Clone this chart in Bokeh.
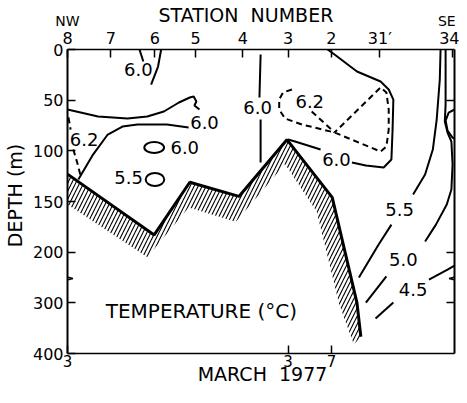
import numpy as np
from bokeh.plotting import figure
from bokeh.models import Range1d, LinearAxis, FixedTicker, Label
from bokeh.core.properties import value
from bokeh.embed import file_html
from bokeh.resources import INLINE

FONT = "DejaVu Sans"
NB = "\u00a0"

# ---- axes data ----
station_x = [0, 11.2, 22.6, 33.1, 45.3, 57.0, 68.2, 80.7, 99.5]
station_labels = ["8", "7", "6", "5", "4", "3", "2", "31\u2032", "34"]
side_x = [0, 98.0]
side_labels = ["NW", "SE"]
date_x = [0, 57.0, 68.2]
date_labels = ["3", "3", "7"]
month_x = [50.4]
month_labels = ["MARCH" + NB * 2 + "1977"]
depth_ticks_m = [0, 50, 100, 150, 200, 300, 400]
right_ticks_m = [50, 200, 300]

# ---- bottom topography (distance units, depth m) ----
bottom_x = [0, 22.4, 31.6, 44.3, 56.7, 68.4, 74.8, 75.8]
bottom_d = [123, 183, 131, 145, 89, 146, 300, 367]
hatch_lo_x = [74.0, 70.2, 64.4, 56.2, 43.5, 31.3, 20.6, 0]
hatch_lo_d = [382, 303, 160, 113, 170, 156, 210, 153]

# ---- contours (solid) ----
c60_v_right_x = [24.2, 23.4, 21.6]; c60_v_right_d = [0, 16.8, 34.6]
c60_v_left_x = [18.6, 19.6]; c60_v_left_d = [0, 11.8]
c60_up_x = [0, 7.9, 15.5, 20.6, 24.9, 28.8, 31.6, 32.6, 33.3, 32.8, 34.1]
c60_up_d = [59.2, 66.1, 68.1, 66.1, 61.2, 52.3, 47.4, 46.4, 51.3, 55.3, 59.2]
c60_lo_x = [31.3, 25.7, 18.1, 14.2, 10.4, 6.6, 2.8]
c60_lo_d = [77, 74, 74, 76, 83.9, 103.7, 128.3]
c60_vt_x = [49.9, 49.6]; c60_vt_d = [4.9, 47.4]
c60_vb_x = [49.9, 49.9]; c60_vb_d = [69.1, 111.5]
c60_loop_x = [67.2, 69.0, 74.8, 80.9, 83.0, 84.2, 84.0, 83.7, 81.7, 77.1, 73.5]
c60_loop_d = [0, 4.9, 21.7, 31.6, 39.5, 49.4, 79.0, 108.6, 116.5, 114.5, 111.5]
c60_tail_x = [65.4, 58.8, 57.0]; c60_tail_d = [98.7, 90.8, 88.8]
c55_a_x = [96.4, 96.2, 95.4, 94.4, 92.4, 89.3]; c55_a_d = [0, 29.6, 69.1, 98.7, 123.4, 143.1]
c55_b_x = [83.7, 80.4, 75.3]; c55_b_d = [172.8, 192.5, 250]
c50_a_x = [97.7, 97.7, 97.5, 98.2, 99.2, 99.5, 99.2, 98.0, 95.2, 92.4]
c50_a_d = [0, 54.3, 71.1, 81.9, 90.8, 113.5, 138.2, 153, 172.8, 189.5]
c50_b_x = [82.4, 77.1]; c50_b_d = [248, 299.5]
arc_x = [100, 98.5, 97.7, 98.2, 99.5, 100]; arc_d = [59.2, 62.2, 70.1, 80, 86.9, 87.9]
c45_a_x = [100, 98.2, 93.4]; c45_a_d = [226.4, 234.4, 254]
c45_b_x = [84.2, 79.6]; c45_b_d = [299.5, 331]

# ---- contours (dashed, 6.2) ----
d62_loop_x = [58.0, 55.7, 54.7, 54.7, 56.2, 60.6, 69.0, 80.9, 82.4, 83.0, 83.0, 82.4, 80.9, 69.0]
d62_loop_d = [39.5, 42.4, 49.4, 59.2, 68.1, 74.0, 81.9, 100.7, 95.8, 79.0, 59.2, 42.4, 37.5, 81.9]
d62_diag_x = [63.1, 69.0]; d62_diag_d = [61.2, 81.9]
d62_lt_x = [0.25, 0.8]; d62_lt_d = [67, 79]
d62_lb_x = [1.5, 2.5, 3.3]; d62_lb_d = [98.7, 111.5, 123.4]

# ---- small closed contours ----
ell_x = [22.4, 22.6]; ell_d = [96.7, 128.3]; ell_w = [5.1, 4.8]; ell_h = [10.9, 12.8]

# ---- contour labels ----
lab_text = ["6.0", "6.0", "6.2", "6.0", "5.5", "6.0", "6.2", "6.0", "5.5", "5.0", "4.5"]
lab_x = [18.3, 35.4, 4.3, 30.3, 15.8, 49.1, 62.6, 69.5, 85.8, 86.8, 89.3]
lab_d = [19.7, 72.1, 88.8, 96.7, 126.4, 57.3, 51.3, 108.6, 157.9, 214.6, 273.8]


def yb(d):
    """Broken depth axis: 0-200 m linear, 200-400 m compressed by half."""
    d = np.asarray(d, dtype=float)
    return np.where(d <= 200, d, 200 + (d - 200) / 2.0)


p = figure(width=459, height=387, x_range=Range1d(0, 100), y_range=Range1d(300, 0),
           output_backend="svg", toolbar_location=None, x_axis_location="above",
           min_border_left=61, min_border_right=5, min_border_top=42, min_border_bottom=34,
           background_fill_color="white", border_fill_color="white")
p.outline_line_color = None
p.xgrid.visible = False
p.ygrid.visible = False


def style_axis(ax, lw, size="16px"):
    ax.axis_line_width = lw
    ax.axis_line_color = "black"
    ax.major_tick_in = 8
    ax.major_tick_out = 0
    ax.major_tick_line_width = 1.5
    ax.minor_tick_line_color = None
    ax.major_label_text_font = FONT
    ax.major_label_text_font_size = size
    ax.major_label_text_color = "black"
    ax.major_label_standoff = 4
    ax.axis_label_text_font = FONT
    ax.axis_label_text_font_style = "normal"
    ax.axis_label_text_color = "black"


def text_only(ax):
    ax.axis_line_color = None
    ax.major_tick_line_color = None


top = p.xaxis[0]
top.ticker = FixedTicker(ticks=station_x)
top.major_label_overrides = {float(x): l for x, l in zip(station_x, station_labels)}
style_axis(top, 1.3)
top.major_label_standoff = 2

top2 = LinearAxis(ticker=FixedTicker(ticks=side_x))
top2.major_label_overrides = {float(x): l for x, l in zip(side_x, side_labels)}
style_axis(top2, 0, "14px")
text_only(top2)
top2.major_label_standoff = -3
top2.axis_label = "STATION" + NB * 2 + "NUMBER" + NB * 5
top2.axis_label_text_font_size = "19px"
top2.axis_label_standoff = -16
p.add_layout(top2, "above")

left = p.yaxis[0]
yt = [float(v) for v in yb(depth_ticks_m)]
left.ticker = FixedTicker(ticks=yt)
left.major_label_overrides = {v: str(m) for v, m in zip(yt, depth_ticks_m)}
style_axis(left, 2)
left.axis_label = NB * 2 + "DEPTH (m)"
left.axis_label_text_font_size = "19px"
left.axis_label_standoff = 4

bottom = LinearAxis(ticker=FixedTicker(ticks=date_x))
bottom.major_label_overrides = {float(x): l for x, l in zip(date_x, date_labels)}
style_axis(bottom, 1.3, "15px")
bottom.major_label_standoff = 1
p.add_layout(bottom, "below")

bottom2 = LinearAxis(ticker=FixedTicker(ticks=month_x))
bottom2.major_label_overrides = {float(x): l for x, l in zip(month_x, month_labels)}
style_axis(bottom2, 0, "19px")
text_only(bottom2)
bottom2.major_label_standoff = -7
p.add_layout(bottom2, "below")

rt = [float(v) for v in yb(right_ticks_m)]
right = LinearAxis(ticker=FixedTicker(ticks=rt))
right.major_label_overrides = {v: "" for v in rt}
style_axis(right, 2)
right.major_label_standoff = 0
p.add_layout(right, "right")

# topography
hx = bottom_x + hatch_lo_x
hd = bottom_d + hatch_lo_d
p.patch(hx, yb(hd), fill_alpha=0, line_color=None, hatch_pattern="/",
        hatch_scale=8, hatch_weight=1.1, hatch_color="black")
p.line(bottom_x, yb(bottom_d), line_width=3, color="black")

solid = [(c60_v_right_x, c60_v_right_d), (c60_v_left_x, c60_v_left_d),
         (c60_up_x, c60_up_d), (c60_lo_x, c60_lo_d), (c60_vt_x, c60_vt_d),
         (c60_vb_x, c60_vb_d), (c60_loop_x, c60_loop_d), (c60_tail_x, c60_tail_d),
         (c55_a_x, c55_a_d), (c55_b_x, c55_b_d), (c50_a_x, c50_a_d), (c50_b_x, c50_b_d),
         (arc_x, arc_d), (c45_a_x, c45_a_d), (c45_b_x, c45_b_d)]
p.multi_line([s[0] for s in solid], [list(yb(s[1])) for s in solid],
             line_width=2, color="black")

dashed = [(d62_loop_x, d62_loop_d), (d62_diag_x, d62_diag_d),
          (d62_lt_x, d62_lt_d), (d62_lb_x, d62_lb_d)]
p.multi_line([s[0] for s in dashed], [list(yb(s[1])) for s in dashed],
             line_width=2, color="black", line_dash="6 4")

p.ellipse(ell_x, yb(ell_d), width=ell_w, height=ell_h, fill_alpha=0,
          line_color="black", line_width=2)

p.text(lab_x, yb(lab_d), text=lab_text, text_font=value(FONT),
       text_font_size=value("18px"), text_align="center", text_baseline="middle",
       text_color="black")

# axis break marks
p.line([0, -1.2, 1.4, -1.2, 0], [221, 223.5, 226, 228.5, 231], line_width=1.5, color="black")
p.line([100, 101.2, 98.6, 101.2, 100], [221, 223.5, 226, 228.5, 231], line_width=1.5, color="black")

p.add_layout(Label(x=34.6, y=257.7, text="TEMPERATURE (\u00b0C)", text_font=FONT,
                   text_font_size="20px", text_align="center", text_baseline="middle",
                   text_color="black"))

open("out.html", "w").write(file_html(p, INLINE))
